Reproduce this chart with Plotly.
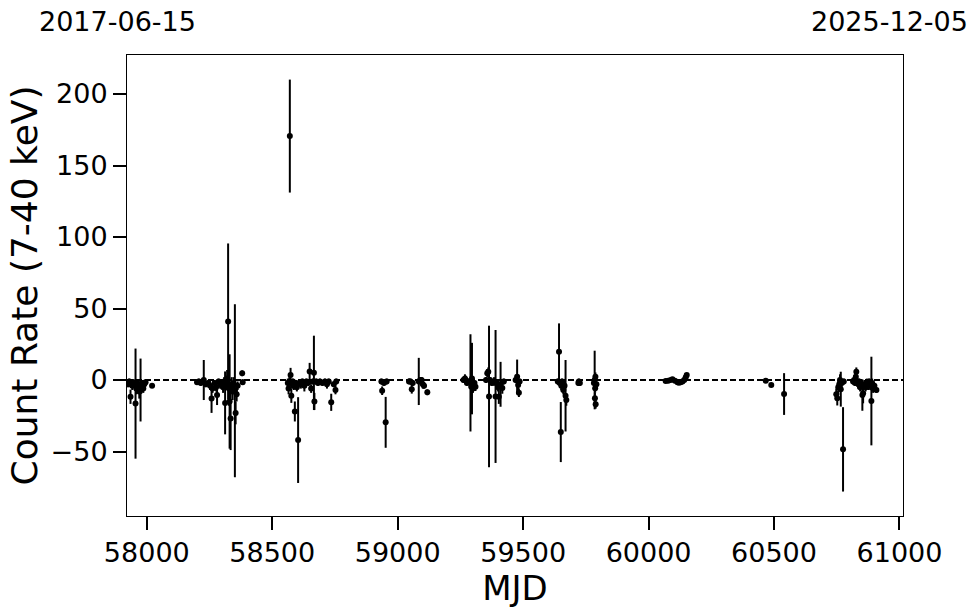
import plotly.graph_objects as go

# ---- data ----
mjd = [
    57922, 57926, 57930, 57935, 57938, 57942, 57946, 57950, 57955, 57958,
    57962, 57966, 57970, 57975, 57978, 57982, 57986, 57990, 57995, 58021,
    58200, 58207, 58215, 58227, 58235, 58245, 58252, 58258, 58262, 58270,
    58276, 58280, 58286, 58292, 58298, 58304, 58308, 58312, 58316, 58320,
    58324, 58327, 58330, 58334, 58338, 58342, 58346, 58351, 58354, 58358,
    58362, 58380, 58382,
    58562, 58565, 58568, 58570, 58573, 58576, 58579, 58582, 58586, 58590,
    58594, 58598, 58603, 58608, 58614, 58620, 58628, 58636, 58643, 58649,
    58655, 58662, 58666, 58668, 58675, 58682, 58690, 58700, 58710, 58718,
    58725, 58735, 58745, 58752, 58755,
    58935, 58938, 58945, 58952, 58956,
    59045, 59051, 59056, 59060, 59084, 59090, 59095, 59100, 59105, 59118,
    59262, 59268, 59271, 59276, 59282, 59290, 59293, 59296, 59300, 59306,
    59310, 59352, 59357, 59361, 59364, 59368, 59375, 59384, 59390, 59395,
    59400, 59403, 59410, 59417, 59423, 59470, 59476, 59480, 59483, 59486,
    59638, 59643, 59646, 59650, 59652, 59655, 59660, 59665, 59669, 59672,
    59720, 59722, 59726,
    59782, 59785, 59787, 59788, 59786, 59789, 59792,
    60068, 60078, 60088, 60095, 60105, 60115, 60121, 60128, 60135, 60142,
    60148, 60152,
    60467, 60489, 60540,
    60748, 60752, 60756, 60760, 60763, 60766, 60770, 60775, 60778,
    60815, 60819, 60823, 60826, 60828, 60832, 60836, 60839, 60843, 60846,
    60852, 60855, 60860, 60865, 60870, 60875, 60879, 60883, 60888, 60891,
    60895, 60900, 60908,
]
rate = [
    -2, -3, -1, -11.7, -2, -4, -1.5, -3, -16.5, -6,
    -2, -4, -8, -7, -5.6, -2, -6, -3, -1.5, -4,
    -1.5, -1, -2, 0, -3, -2, -4, -13, -6, -2,
    -5, -10.5, -1, -3, -2, -5, -1, -16, -3, 1,
    41, -6, -15, -27, -3, -8, -2, -7.5, -23, -10,
    -4, 4.7, -1.5,
    -2, -6, -1, 170.6, 3.5, -11, -3, -1, -4, -22,
    -2, -5, -42, -2, -3, -1, -4, -1, -2, 6,
    -6, -1, 5, -15, -1, -2, -1, -2, -1, -3,
    -1, -15.6, -3, -7, -1,
    -1, -7.5, -2, -29.6, -1,
    -1, -1, -6.5, -2, -1, 0, 0, -3, -4, -8.6,
    0, 1, 0, -2, -1, -2, -4.7, 1, -6, -2,
    -4.7, 0, 4.7, 5.8, -11.5, 0, -2, -1, -11.5, -2,
    -5, -11.7, -3, -5.6, -1, 0, 2.3, -3.5, -8.9, -1,
    -1, 19.8, -2, -36.4, -4, -1, -7, -4, -11, -14,
    -2, -1, -2,
    -2, 0, -5.8, 2.3, -12.8, -17, -3,
    -0.7, -0.5, 0, 0.5, -0.5, -1.5, -1.9, -1.5, -1, 0,
    2, 3.5,
    -0.5, -3.5, -9.8,
    -10, -12.8, -5, -3, 0, -6.4, -2, -48.5, -1,
    -1, 0, -2, 2.3, 5.8, -1, -3, -1, -5, -3.5,
    -10.5, -9.3, -3, -5, -2, -4, -1, -4, -14.7, -2,
    -6, -4, -7,
]
err = [
    1.5, 2, 2, 5, 2, 3, 2, 2, 38.5, 4,
    2, 3, 5, 22, 4, 2, 3, 2, 2, 1.5,
    2, 2, 2, 14, 2, 2, 3, 10, 3, 2,
    3, 7, 2, 3, 2, 4, 3, 22, 4, 6,
    54.5, 12, 33, 22, 5, 6, 4, 60.5, 8, 5,
    3, 2, 2,
    3, 4, 3, 39.5, 5, 5, 3, 2, 3, 7,
    2, 3, 30, 2, 3, 2, 4, 2, 2, 6,
    3, 2, 26, 6, 2, 2, 2, 2, 2, 3,
    2, 6, 2, 3, 2,
    2, 3, 2, 17.8, 2,
    2, 2, 3, 2, 16.5, 2, 2, 3, 2, 2,
    2, 3, 3, 2, 2, 34, 3, 25, 3, 2,
    3, 2, 3, 3, 49.5, 2, 2, 3, 46.5, 2,
    3, 5, 15.7, 4, 2, 2, 12, 3, 3, 2,
    2, 19.8, 2, 21, 3, 2, 3, 3, 25, 4,
    2, 2, 2,
    2, 20.5, 3, 3, 4, 3, 2,
    1, 1, 1, 1, 1, 1, 1, 1, 1, 1,
    1, 1,
    1, 1, 14.6,
    4, 5, 5, 4, 4, 12.2, 3, 29.5, 2,
    2, 3, 2, 3, 3, 2, 3, 2, 3, 3,
    11, 7, 3, 3, 3, 3, 2, 3, 31, 3,
    3, 2, 2,
]

x_ticks = [58000, 58500, 59000, 59500, 60000, 60500, 61000]
y_ticks = [-50, 0, 50, 100, 150, 200]
start_label = "2017-06-15"
end_label = "2025-12-05"

FONT = "DejaVu Sans"

fig = go.Figure()
fig.add_trace(go.Scatter(
    x=mjd, y=rate, mode="markers",
    marker=dict(color="black", size=6),
    error_y=dict(type="data", array=err, visible=True,
                 color="black", thickness=2, width=0),
    showlegend=False,
))

fig.add_shape(type="line", xref="paper", yref="y", x0=0, x1=1, y0=0, y1=0,
              line=dict(color="black", width=1.8, dash="6px,3px"),
              layer="below")

fig.add_annotation(text=start_label, xref="paper", yref="paper",
                   x=-0.0116, y=1.0716, xanchor="center", yanchor="middle",
                   showarrow=False, font=dict(family=FONT, size=27, color="black"))
fig.add_annotation(text=end_label, xref="paper", yref="paper",
                   x=0.983, y=1.0716, xanchor="center", yanchor="middle",
                   showarrow=False, font=dict(family=FONT, size=27, color="black"))

axis_common = dict(
    showgrid=False, zeroline=False, showline=True, linecolor="black",
    linewidth=1, mirror=True, ticks="outside", ticklen=13, tickwidth=2,
    tickcolor="black", tickfont=dict(family=FONT, size=27, color="black"),
)
fig.update_xaxes(range=[57921, 61014], tickvals=x_ticks, tickformat="d",
                 title=dict(text="MJD", font=dict(family=FONT, size=34, color="black"),
                            standoff=0),
                 **axis_common)
fig.update_yaxes(range=[-95.1, 227.3], tickvals=y_ticks, tickformat="d",
                 title=dict(text="Count Rate (7-40 keV)",
                            font=dict(family=FONT, size=36, color="black"),
                            standoff=2),
                 **axis_common)

fig.update_layout(
    width=980, height=613,
    margin=dict(l=127, r=77, t=55, b=97, autoexpand=False),
    paper_bgcolor="white", plot_bgcolor="white",
    font=dict(family=FONT, color="black"),
)

fig.write_html("out.html", config={"displayModeBar": False},
               post_script="document.body.style.margin='0px';document.body.style.overflow='hidden';")
